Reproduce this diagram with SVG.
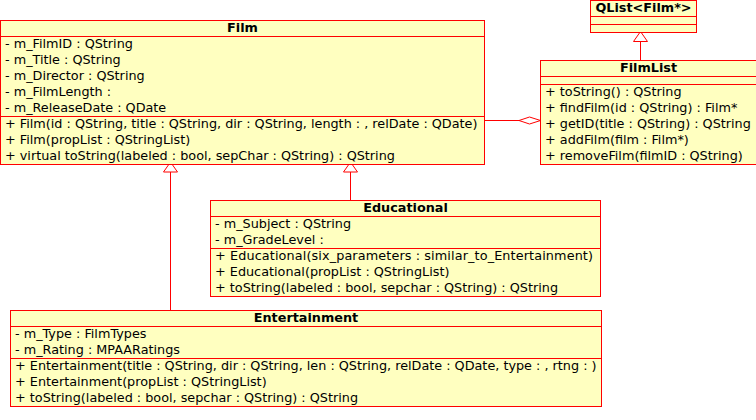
<svg xmlns="http://www.w3.org/2000/svg" width="756" height="420" viewBox="0 0 756 420">
<style>
.box{fill:#ffffc0;stroke:#ff0000;stroke-width:1}
.sep{stroke:#ff0000;stroke-width:1}
.t{font-family:"DejaVu Sans",sans-serif;font-size:12.8px;fill:#000}
.h{font-family:"DejaVu Sans",sans-serif;font-size:12.8px;font-weight:bold;fill:#000;text-anchor:middle}
.ln{stroke:#ff0000;stroke-width:1;fill:none}
.hd{stroke:#ff0000;stroke-width:1;fill:#ffffff}
</style>
<rect width="756" height="420" fill="#ffffff"/>
<g id="connectors">
<line class="ln" x1="170.5" y1="172" x2="170.5" y2="310.5"/>
<polygon class="hd" points="170.5,162 177.5,172 163.5,172"/>
<line class="ln" x1="350.5" y1="172" x2="350.5" y2="200.5"/>
<polygon class="hd" points="350.5,162 357.5,172 343.5,172"/>
<line class="ln" x1="640.5" y1="41.5" x2="640.5" y2="60.5"/>
<polygon class="hd" points="640.5,31.5 647.5,41.5 633.5,41.5"/>
<line class="ln" x1="484.5" y1="120.5" x2="519" y2="120.5"/>
<polygon class="hd" points="519,120.5 529.5,117 540.5,120.5 529.5,124"/>
</g>
<g id="QList">
<rect class="box" x="590.5" y="0.5" width="106" height="32"/>
<line class="sep" x1="590.5" y1="16.5" x2="696.5" y2="16.5"/>
<line class="sep" x1="590.5" y1="24.5" x2="696.5" y2="24.5"/>
<text class="h" x="643.5" y="12">QList&lt;Film*&gt;</text>
</g>
<g id="Film">
<rect class="box" x="0.5" y="20.5" width="484" height="144"/>
<line class="sep" x1="0.5" y1="36.5" x2="484.5" y2="36.5"/>
<line class="sep" x1="0.5" y1="116.5" x2="484.5" y2="116.5"/>
<text class="h" x="242.5" y="32">Film</text>
<text class="t" x="5" y="48">- m_FilmID : QString</text>
<text class="t" x="5" y="64">- m_Title : QString</text>
<text class="t" x="5" y="80">- m_Director : QString</text>
<text class="t" x="5" y="96">- m_FilmLength : </text>
<text class="t" x="5" y="112">- m_ReleaseDate : QDate</text>
<text class="t" x="5" y="128">+ Film(id : QString, title : QString, dir : QString, length : , relDate : QDate)</text>
<text class="t" x="5" y="144">+ Film(propList : QStringList)</text>
<text class="t" x="5" y="160">+ virtual toString(labeled : bool, sepChar : QString) : QString</text>
</g>
<g id="FilmList">
<rect class="box" x="540.5" y="60.5" width="216" height="104"/>
<line class="sep" x1="540.5" y1="76.5" x2="756.5" y2="76.5"/>
<line class="sep" x1="540.5" y1="84.5" x2="756.5" y2="84.5"/>
<text class="h" x="648.5" y="72">FilmList</text>
<text class="t" x="545" y="96">+ toString() : QString</text>
<text class="t" x="545" y="112">+ findFilm(id : QString) : Film*</text>
<text class="t" x="545" y="128">+ getID(title : QString) : QString</text>
<text class="t" x="545" y="144">+ addFilm(film : Film*)</text>
<text class="t" x="545" y="160">+ removeFilm(filmID : QString)</text>
</g>
<g id="Educational">
<rect class="box" x="210.5" y="200.5" width="390" height="96"/>
<line class="sep" x1="210.5" y1="216.5" x2="600.5" y2="216.5"/>
<line class="sep" x1="210.5" y1="248.5" x2="600.5" y2="248.5"/>
<text class="h" x="405.5" y="212">Educational</text>
<text class="t" x="215" y="228">- m_Subject : QString</text>
<text class="t" x="215" y="244">- m_GradeLevel : </text>
<text class="t" x="215" y="260" textLength="378" lengthAdjust="spacing">+ Educational(six_parameters : similar_to_Entertainment)</text>
<text class="t" x="215" y="276">+ Educational(propList : QStringList)</text>
<text class="t" x="215" y="292">+ toString(labeled : bool, sepchar : QString) : QString</text>
</g>
<g id="Entertainment">
<rect class="box" x="10.5" y="310.5" width="591" height="96"/>
<line class="sep" x1="10.5" y1="326.5" x2="601.5" y2="326.5"/>
<line class="sep" x1="10.5" y1="358.5" x2="601.5" y2="358.5"/>
<text class="h" x="306" y="322">Entertainment</text>
<text class="t" x="15" y="338">- m_Type : FilmTypes</text>
<text class="t" x="15" y="354">- m_Rating : MPAARatings</text>
<text class="t" x="15" y="370">+ Entertainment(title : QString, dir : QString, len : QString, relDate : QDate, type : , rtng : )</text>
<text class="t" x="15" y="386">+ Entertainment(propList : QStringList)</text>
<text class="t" x="15" y="402">+ toString(labeled : bool, sepchar : QString) : QString</text>
</g>
</svg>
